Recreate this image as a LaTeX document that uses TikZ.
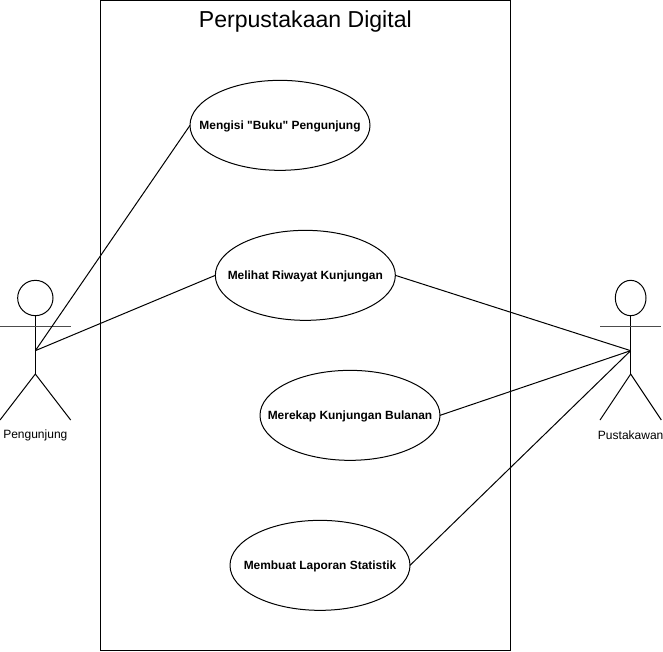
\documentclass[tikz,border=0pt]{standalone}
\usepackage{fontspec}
\setmainfont{Liberation Sans}[Ligatures=TeXOff]
\usetikzlibrary{shapes.geometric}
\begin{document}
\begin{tikzpicture}[x=1pt,y=-1pt,
    usecase/.style = {ellipse,draw=black,line width=0.75pt,minimum width=135pt,minimum height=67.5pt,inner xsep=-40pt,inner ysep=0pt,outer sep=0pt,text height=8pt,text depth=1.9pt,font=\bfseries\fontsize{8.95pt}{11pt}\selectfont},
    actorlabel/.style = {inner sep=0pt,font=\fontsize{9pt}{11pt}\selectfont},
    limb/.style = {line width=0.75pt}]
    \useasboundingbox (0,0) rectangle (497.25,488.25);
    \coordinate (boxnw) at (75.4,0);
    \coordinate (boxse) at (383,488);
    \draw[line width=0.75pt] (boxnw) rectangle (boxse);
    \node[font=\fontsize{17.3pt}{20pt}\selectfont] (title) at (229,16) {Perpustakaan Digital};
    % use cases
    \node[usecase] (isi) at (210,94) {Mengisi "Buku" Pengunjung};
    \node[usecase] (riwayat) at (229,206.5) {Melihat Riwayat Kunjungan};
    \node[usecase] (rekap) at (262.5,311.5) {Merekap Kunjungan Bulanan};
    \node[usecase] (laporan) at (240,424) {Membuat Laporan Statistik};
    % actor left
    \node[circle,draw,line width=0.75pt,minimum size=26.5pt,inner sep=0pt,outer sep=0pt] (headA) at (26.5,223.5) {};
    \coordinate (hipA) at (26.5,280.5);
    \coordinate (neckA) at (26.5,263);
    \draw[limb] (headA) -- (hipA);
    \draw[limb,black!70] (0,245) -- (53,245);
    \draw[limb] (0,315) -- (hipA) -- (53,315);
    \node[actorlabel] (pengunjung) at (26.5,326.5) {Pengunjung};
    % actor right
    \node[ellipse,draw,line width=0.75pt,minimum width=23pt,minimum height=26.5pt,inner sep=0pt,outer sep=0pt] (headB) at (473,223.5) {};
    \coordinate (hipB) at (473,280.5);
    \coordinate (neckB) at (473,263);
    \draw[limb] (headB) -- (hipB);
    \draw[limb,black!70] (450,245) -- (496,245);
    \draw[limb] (450,315) -- (hipB) -- (496,315);
    \node[actorlabel] (pustakawan) at (473,326.5) {Pustakawan};
    % connectors
    \draw[limb] (neckA) -- (isi.west);
    \draw[limb] (neckA) -- (riwayat.west);
    \draw[limb] (riwayat.east) -- (neckB);
    \draw[limb] (rekap.east) -- (neckB);
    \draw[limb] (laporan.east) -- (neckB);
\end{tikzpicture}
\end{document}
